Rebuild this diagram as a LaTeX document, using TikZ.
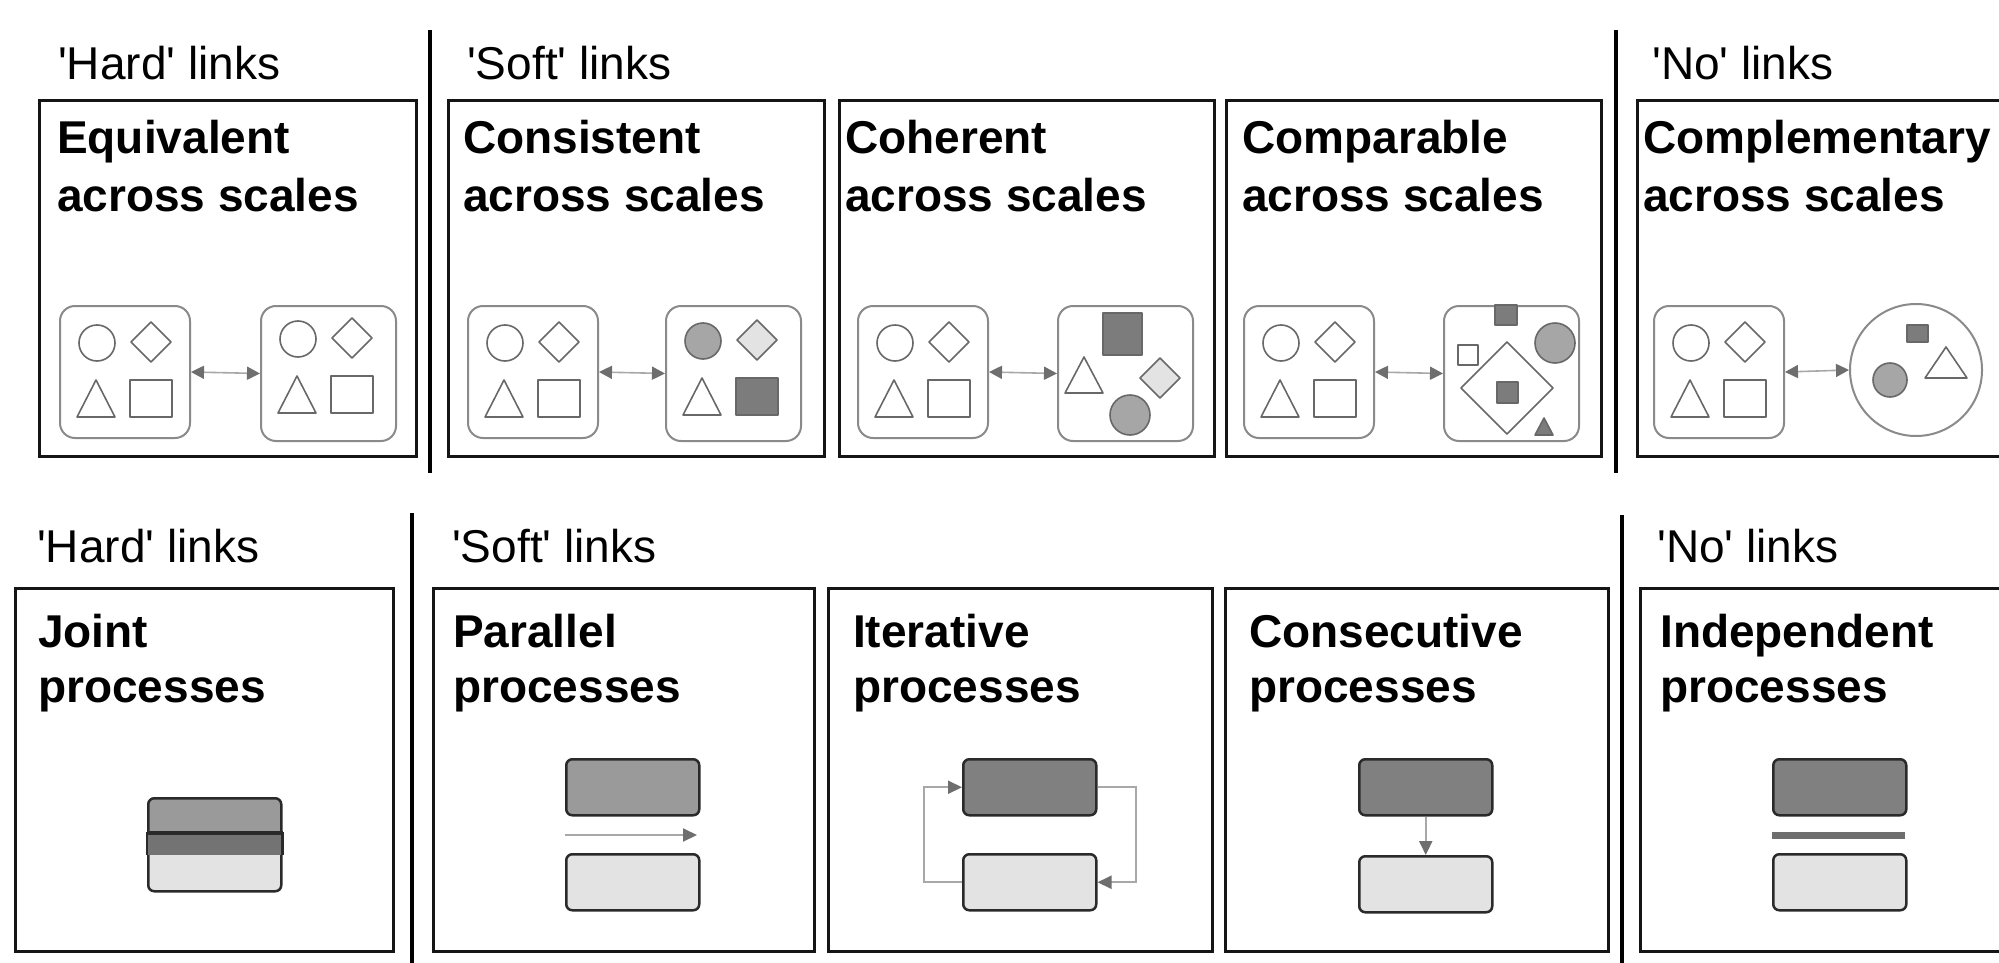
\documentclass[tikz,border=0pt]{standalone}
\usepackage{fontspec}
\setmainfont{Liberation Sans}[Ligatures=TeXOff]
\usetikzlibrary{arrows.meta}

\definecolor{frame}{HTML}{151515}
\definecolor{pale}{HTML}{E3E3E3}
\definecolor{mid}{HTML}{A6A6A6}
\definecolor{darkfill}{HTML}{7C7C7C}
\definecolor{outline}{HTML}{686868}
\definecolor{boxline}{HTML}{8A8A8A}
\definecolor{linkline}{HTML}{A8A8A8}
\definecolor{tipgray}{HTML}{6E6E6E}
\definecolor{procline}{HTML}{2A2A2A}
\definecolor{procmid}{HTML}{9A9A9A}
\definecolor{procdark}{HTML}{808080}
\definecolor{jointband}{HTML}{737373}

% the four basic pictograms of a scale box, fills given as colours
\newcommand{\fourshapes}[4]{%
  \draw[shp,fill=#1] (38,38) circle[radius=18pt];
  \draw[shp,fill=#2] (92,17) -- (112,37) -- (92,57) -- (72,37) -- cycle;
  \draw[shp,fill=#3] (18,112) -- (37,75) -- (56,112) -- cycle;
  \draw[shp,fill=#4] (71,75) rectangle (113,112);
}

\begin{document}
\begin{tikzpicture}[x=1pt,y=-1pt,
  panel/.style={draw=frame, line width=3pt, rectangle, inner sep=0pt, anchor=north west},
  toppanel/.style={panel, minimum height=356pt},
  botpanel/.style={panel, minimum height=363pt},
  grouplabel/.style={anchor=base west, inner sep=0pt, font=\fontsize{46}{55}\selectfont},
  toptitle/.style={anchor=base west, inner sep=0pt, align=left, font=\fontsize{46}{58}\selectfont\bfseries},
  bottitle/.style={anchor=base west, inner sep=0pt, align=left, font=\fontsize{46}{55}\selectfont\bfseries},
  divider/.style={draw=black, line width=3.5pt},
  scene/.style={draw=boxline, line width=2pt, rounded corners=15pt, inner sep=0pt, anchor=north west},
  leftscene/.style={scene, minimum width=130pt, minimum height=132pt},
  rightscene/.style={scene, minimum width=135pt, minimum height=135pt},
  shp/.style={draw=outline, line width=1.6pt, line join=round},
  link/.style={draw=linkline, line width=1.6pt,
    {Triangle[length=13pt,width=13pt,color=tipgray]}-{Triangle[length=13pt,width=13pt,color=tipgray]}},
  proc/.style={draw=procline, line width=2.5pt, rounded corners=6pt, inner sep=0pt,
    anchor=north west, minimum width=133pt, minimum height=56pt},
  flow/.style={draw=linkline, line width=2pt, -{Triangle[length=14pt,width=13pt,color=tipgray]}},
  sepbar/.style={draw=tipgray, line width=7pt}
]
\useasboundingbox[fill=white] (0,0) rectangle (1999,963);

% ---------------- upper row: links across scales ----------------
\node[grouplabel] (g1) at (58,80) {'Hard' links};
\node[grouplabel] (g2) at (467,80) {'Soft' links};
\node[grouplabel] (g3) at (1652,80) {'No' links};

\coordinate (d1a) at (430,30);  \coordinate (d1b) at (430,473);
\coordinate (d2a) at (1616,30); \coordinate (d2b) at (1616,473);
\draw[divider] (d1a) -- (d1b);
\draw[divider] (d2a) -- (d2b);

\node[toppanel, minimum width=377pt] (p1) at (38,99) {};
\node[toppanel, minimum width=376pt] (p2) at (447,99) {};
\node[toppanel, minimum width=375pt] (p3) at (838,99) {};
\node[toppanel, minimum width=375pt] (p4) at (1225,99) {};
\node[toppanel, minimum width=400pt] (p5) at (1636,99) {};

% the base line of a two-line title is that of its second line
\node[toptitle] (t1) at (57,211) {Equivalent\\across scales};
\node[toptitle] (t2) at (463,211) {Consistent\\across scales};
\node[toptitle] (t3) at (845,211) {Coherent\\across scales};
\node[toptitle] (t4) at (1242,211) {Comparable\\across scales};
\node[toptitle] (t5) at (1643,211) {Complementary\\across scales};

% scale boxes
\node[leftscene] (a1) at (59,305) {};
\node[rightscene] (b1) at (260,305) {};
\node[leftscene] (a2) at (467,305) {};
\node[rightscene] (b2) at (665,305) {};
\node[leftscene] (a3) at (857,305) {};
\node[rightscene] (b3) at (1057,305) {};
\node[leftscene] (a4) at (1243,305) {};
\node[rightscene] (b4) at (1443,305) {};
\node[leftscene] (a5) at (1653,305) {};
\node[draw=boxline, line width=2pt, circle, minimum size=132pt, inner sep=0pt] (b5) at (1916,370) {};

\draw[link] (a1.east) -- (b1.west);
\draw[link] (a2.east) -- (b2.west);
\draw[link] (a3.east) -- (b3.west);
\draw[link] (a4.east) -- (b4.west);
\draw[link] (a5.east) -- (b5.west);

% contents of the scale boxes
\begin{scope}[shift={(59,305)}]\fourshapes{white}{white}{white}{white}\end{scope}
\begin{scope}[shift={(260,301)}]\fourshapes{white}{white}{white}{white}\end{scope}
\begin{scope}[shift={(467,305)}]\fourshapes{white}{white}{white}{white}\end{scope}
\begin{scope}[shift={(665,303)}]\fourshapes{mid}{pale}{white}{darkfill}\end{scope}
\begin{scope}[shift={(857,305)}]\fourshapes{white}{white}{white}{white}\end{scope}
\begin{scope}[shift={(1243,305)}]\fourshapes{white}{white}{white}{white}\end{scope}
\begin{scope}[shift={(1653,305)}]\fourshapes{white}{white}{white}{white}\end{scope}

% coherent: same items, rearranged
\begin{scope}[shift={(1057,305)}]
  \draw[shp,fill=darkfill] (46,8) rectangle (85,50);
  \draw[shp,fill=white] (8,88) -- (27,52) -- (46,88) -- cycle;
  \draw[shp,fill=pale] (103,53) -- (123,73) -- (103,93) -- (83,73) -- cycle;
  \draw[shp,fill=mid] (73,110) circle[radius=20pt];
\end{scope}

% comparable: items nested and resized
\begin{scope}[shift={(1443,305)}]
  \draw[shp] (64,37) -- (110,83) -- (64,129) -- (18,83) -- cycle;
  \draw[shp,fill=darkfill] (52,0) rectangle (74,20);
  \draw[shp,fill=white] (15,40) rectangle (35,60);
  \draw[shp,fill=darkfill] (54,77) rectangle (75,98);
  \draw[shp,fill=mid] (112,38) circle[radius=20pt];
  \draw[shp,fill=darkfill] (92,130) -- (101,113) -- (110,130) -- cycle;
\end{scope}

% complementary: a different set inside a circle
\draw[shp,fill=darkfill] (1907,325) rectangle (1928,342);
\draw[shp,fill=white] (1925,378) -- (1946,347) -- (1967,378) -- cycle;
\draw[shp,fill=mid] (1890,380) circle[radius=17pt];

% ---------------- lower row: processes ----------------
\node[grouplabel] (h1) at (37,562) {'Hard' links};
\node[grouplabel] (h2) at (452,562) {'Soft' links};
\node[grouplabel] (h3) at (1657,562) {'No' links};

\coordinate (e1a) at (412,513);  \coordinate (e1b) at (412,963);
\coordinate (e2a) at (1622,515); \coordinate (e2b) at (1622,963);
\draw[divider] (e1a) -- (e1b);
\draw[divider] (e2a) -- (e2b);

\node[botpanel, minimum width=378pt] (q1) at (14,587) {};
\node[botpanel, minimum width=381pt] (q2) at (432,587) {};
\node[botpanel, minimum width=384pt] (q3) at (827,587) {};
\node[botpanel, minimum width=383pt] (q4) at (1224,587) {};
\node[botpanel, minimum width=400pt] (q5) at (1639,587) {};

\node[bottitle] (u1) at (38,702) {Joint\\processes};
\node[bottitle] (u2) at (453,702) {Parallel\\processes};
\node[bottitle] (u3) at (853,702) {Iterative\\processes};
\node[bottitle] (u4) at (1249,702) {Consecutive\\processes};
\node[bottitle] (u5) at (1660,702) {Independent\\processes};

% joint: two overlapping processes
\node[proc, fill=procmid, minimum height=55pt] (jt) at (147,797) {};
\node[proc, fill=pale, minimum height=57pt] (jb) at (147,833) {};
\fill[jointband] (jb.north west) rectangle (jt.south east);
\draw[procline, line width=2.5pt] (jt.south west) -- (jb.north west) -- (jb.north east) -- (jt.south east);
\draw[procline, line width=3.5pt] (jb.north west) -- (jb.north east);

% parallel
\node[proc, fill=procmid] (pt) at (565,758) {};
\node[proc, fill=pale] (pb) at (565,853) {};
\coordinate (pas) at (565,835);
\coordinate (pae) at (697,835);
\draw[flow] (pas) -- (pae);

% iterative
\node[proc, fill=procdark] (it) at (962,758) {};
\node[proc, fill=pale] (ib) at (962,853) {};
\draw[flow] (ib.west) -- ++(-38,0) |- (it.west);
\draw[flow] (it.east) -- ++(38,0) |- (ib.east);

% consecutive
\node[proc, fill=procdark] (ct) at (1358,758) {};
\node[proc, fill=pale] (cb) at (1358,855) {};
\draw[flow] (ct.south) -- (cb.north);

% independent
\node[proc, fill=procdark] (nt) at (1772,758) {};
\node[proc, fill=pale] (nb) at (1772,853) {};
\coordinate (nsl) at (1772,835);
\coordinate (nsr) at (1905,835);
\draw[sepbar] (nsl) -- (nsr);
\end{tikzpicture}
\end{document}
